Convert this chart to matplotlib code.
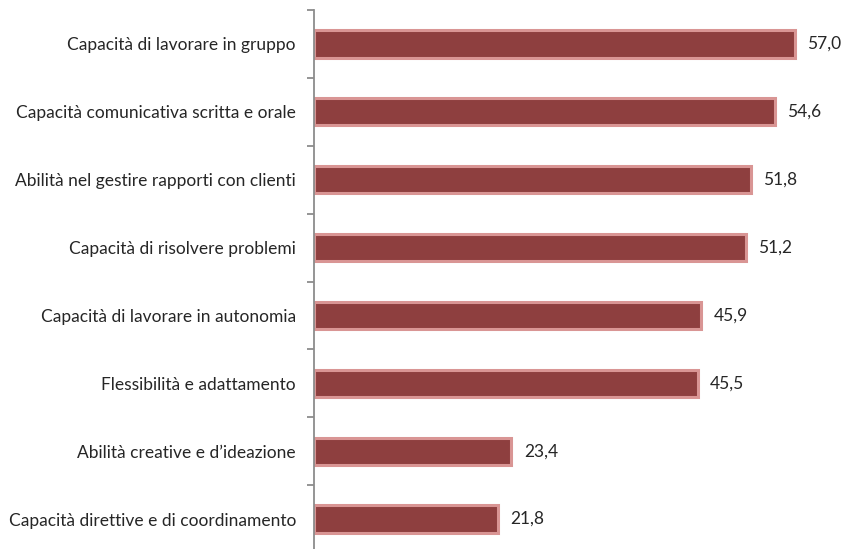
import matplotlib
matplotlib.use('Agg')
import matplotlib.pyplot as plt
import numpy as np

categories = [
    'Capacità di lavorare in gruppo',
    'Capacità comunicativa scritta e orale',
    'Abilità nel gestire rapporti con clienti',
    'Capacità di risolvere problemi',
    'Capacità di lavorare in autonomia',
    'Flessibilità e adattamento',
    'Abilità creative e d\u2019ideazione',
    'Capacità direttive e di coordinamento',
]
values = [57.0, 54.6, 51.8, 51.2, 45.9, 45.5, 23.4, 21.8]

plt.rcParams['font.family'] = ['Lato', 'DejaVu Sans']

fig = plt.figure(figsize=(8.43, 5.49), dpi=100)
W, H = 843, 549
ax = fig.add_axes([314 / W, (549 - 553) / H, (843 - 314) / W, 543 / H])

y = np.arange(len(categories))
ax.barh(y, values, height=0.40, color='#8E3F3F', edgecolor='#D99594', linewidth=2.2)

ax.set_ylim(len(categories) - 0.5, -0.5)
ax.set_xlim(0, 529 / 8.44)

for s in ['top', 'right', 'bottom']:
    ax.spines[s].set_visible(False)
ax.spines['left'].set_color('#8C8C8C')
ax.spines['left'].set_linewidth(1.3)
ax.set_xticks([])

ax.set_yticks(y)
ax.set_yticklabels(categories, fontsize=12.5, color='#262626')
ax.tick_params(axis='y', which='major', length=0, pad=13)
ax.set_yticks(np.arange(-0.5, len(categories), 1.0), minor=True)
ax.tick_params(axis='y', which='minor', length=5, width=1.3, color='#8C8C8C')

for yi, v in zip(y, values):
    ax.text(v + 1.45, yi, f'{v:.1f}'.replace('.', ','), va='center', ha='left',
            fontsize=12.5, color='#262626')

fig.savefig('out.png', dpi=100)
